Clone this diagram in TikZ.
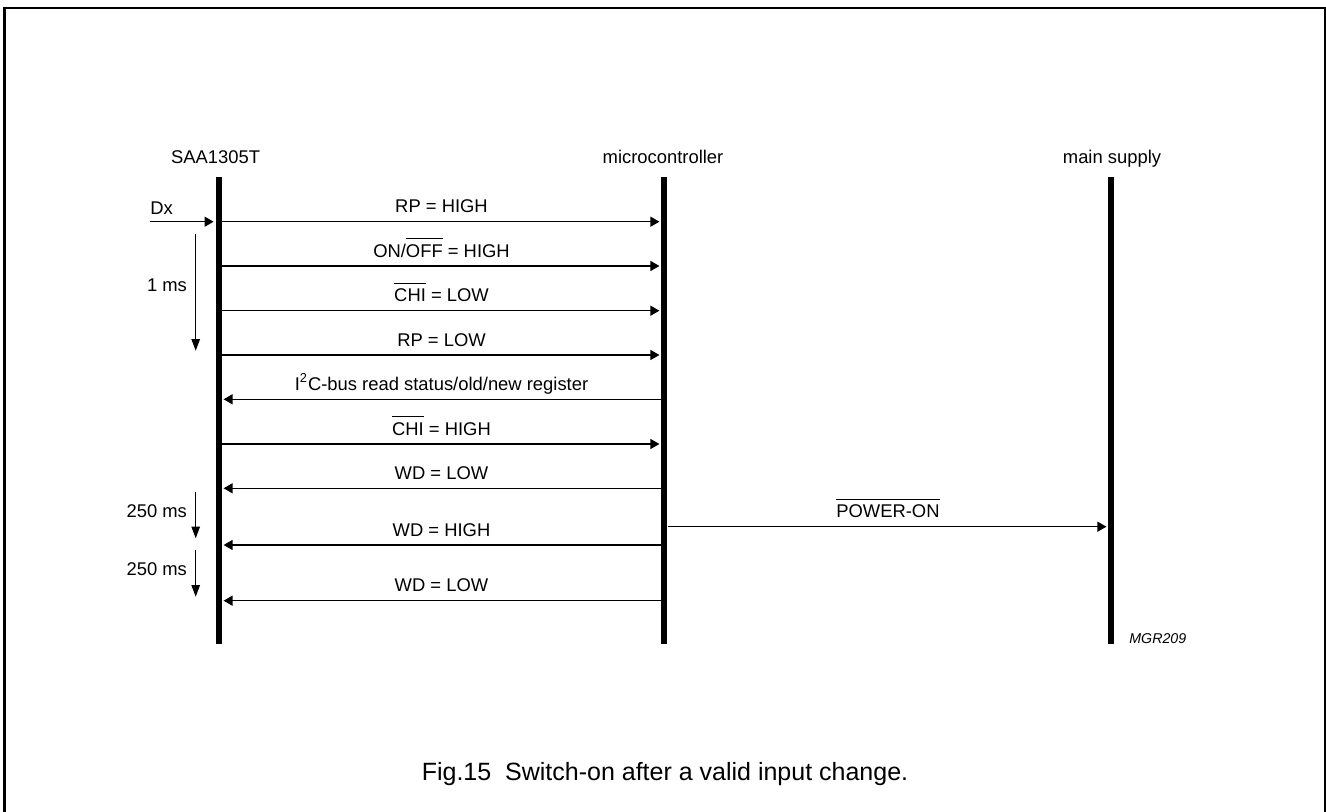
\documentclass[tikz,border=0pt]{standalone}
\usepackage{fontspec}
\setmainfont{Liberation Sans}
\usetikzlibrary{arrows.meta}
\newcommand{\ovl}[1]{$\overline{\mbox{\rule{0pt}{7.9pt}#1}}$}

\begin{document}
\begin{tikzpicture}[x=0.5pt,y=-0.5pt]
      \useasboundingbox (0,0) rectangle (1326,812);

      \tikzstyle{lifeline} = [
        rectangle,
        fill=black,
        inner sep=0pt,
        anchor=north,
        minimum width=3pt,
        minimum height=233.2pt,
      ]
      \tikzstyle{head} = [
        anchor=base,
        inner sep=0pt,
        font=\fontsize{9.2}{11}\selectfont
      ]
      \tikzstyle{msg} = [
        midway,
        above=4.1pt,
        inner sep=0pt,
        text depth=0pt,
        font=\fontsize{9.2}{11}\selectfont
      ]
      \tikzstyle{timelabel} = [
        anchor=east,
        inner sep=0pt,
        font=\fontsize{9.2}{11}\selectfont
      ]

      \tikzstyle{arrow} = [line width=0.65pt,-{Triangle[length=4.5pt,width=5pt]},shorten >=0.8pt]
      \tikzstyle{timearrow} = [line width=0.6pt,-{Triangle[length=5.8pt,width=4.2pt]}]

      % frame
      \draw[line width=1.1pt] (4.5,815) -- (4.5,7.7) -- (1325,7.7) -- (1325,815);

      % heads
      \node[head] (saaLabel) at (215.6,163.3) {SAA1305T};
      \node[head] (mcuLabel) at (663,163.3) {microcontroller};
      \node[head] (supplyLabel) at (1112,163.3) {main supply};

      % lifelines
      \node[lifeline] (saaLine) at (218.6,177) {};
      \node[lifeline] (mcuLine) at (664.4,177) {};
      \node[lifeline] (supplyLine) at (1111.4,177) {};

      % rows
      \coordinate (row1) at (0,221.7);
      \coordinate (row2) at (0,266);
      \coordinate (row3) at (0,310.7);
      \coordinate (row4) at (0,355);
      \coordinate (row5) at (0,399.3);
      \coordinate (row6) at (0,444);
      \coordinate (row7) at (0,488.3);
      \coordinate (row8) at (0,545);
      \coordinate (row9) at (0,600.7);
      \coordinate (rowPower) at (0,526.7);

      % input
      \coordinate (dxStart) at (150,221.7);
      \draw[arrow] (dxStart) -- (saaLine.west |- row1);
      \node[anchor=base west,inner sep=0pt,font=\fontsize{9.2}{11}\selectfont] (dxLabel) at (150,215) {Dx};

      % SAA1305T -> microcontroller
      \draw[arrow] (saaLine.east |- row1) -- (mcuLine.west |- row1) node[msg] (msgRpHigh) {RP = HIGH};
      \draw[arrow] (saaLine.east |- row2) -- (mcuLine.west |- row2) node[msg] (msgOnOff) {ON/\ovl{OFF} = HIGH};
      \draw[arrow] (saaLine.east |- row3) -- (mcuLine.west |- row3) node[msg] (msgChiLow) {\ovl{CHI} = LOW};
      \draw[arrow] (saaLine.east |- row4) -- (mcuLine.west |- row4) node[msg] (msgRpLow) {RP = LOW};

      % microcontroller -> SAA1305T
      \draw[arrow] (mcuLine.west |- row5) -- (saaLine.east |- row5) node[msg] (msgRead) {I\textsuperscript{2}C-bus read status/old/new register};
      \draw[arrow] (saaLine.east |- row6) -- (mcuLine.west |- row6) node[msg] (msgChiHigh) {\ovl{CHI} = HIGH};
      \draw[arrow] (mcuLine.west |- row7) -- (saaLine.east |- row7) node[msg] (msgWdLow) {WD = LOW};
      \draw[arrow] (mcuLine.west |- row8) -- (saaLine.east |- row8) node[msg] (msgWdHigh) {WD = HIGH};
      \draw[arrow] (mcuLine.west |- row9) -- (saaLine.east |- row9) node[msg] (msgWdLowB) {WD = LOW};

      % microcontroller -> main supply
      \draw[arrow] (mcuLine.east |- rowPower) -- (supplyLine.west |- rowPower) node[msg] (msgPower) {\ovl{POWER-ON}};

      % timing
      \coordinate (oneMsTop) at (195.7,234.3);
      \coordinate (oneMsBottom) at (195.7,350.7);
      \draw[timearrow] (oneMsTop) -- (oneMsBottom);
      \node[timelabel] (oneMsLabel) at (187.3,285) {1 ms};

      \coordinate (wdOneTop) at (195.7,491.7);
      \coordinate (wdOneBottom) at (195.7,538.3);
      \draw[timearrow] (wdOneTop) -- (wdOneBottom);
      \node[timelabel] (wdOneLabel) at (187.3,510.7) {250 ms};

      \coordinate (wdTwoTop) at (195.7,550);
      \coordinate (wdTwoBottom) at (195.7,596.7);
      \draw[timearrow] (wdTwoTop) -- (wdTwoBottom);
      \node[timelabel] (wdTwoLabel) at (187.3,569.3) {250 ms};

      % figure code and caption
      \node[anchor=base west,inner sep=0pt,font=\fontsize{7.1}{8}\selectfont\itshape] (figCode) at (1129,643) {MGR209};
      \node[anchor=base,inner sep=0pt,font=\fontsize{12.5}{15}\selectfont] (caption) at (665,780) {Fig.15\ \ Switch-on after a valid input change.};
    \end{tikzpicture}
\end{document}
